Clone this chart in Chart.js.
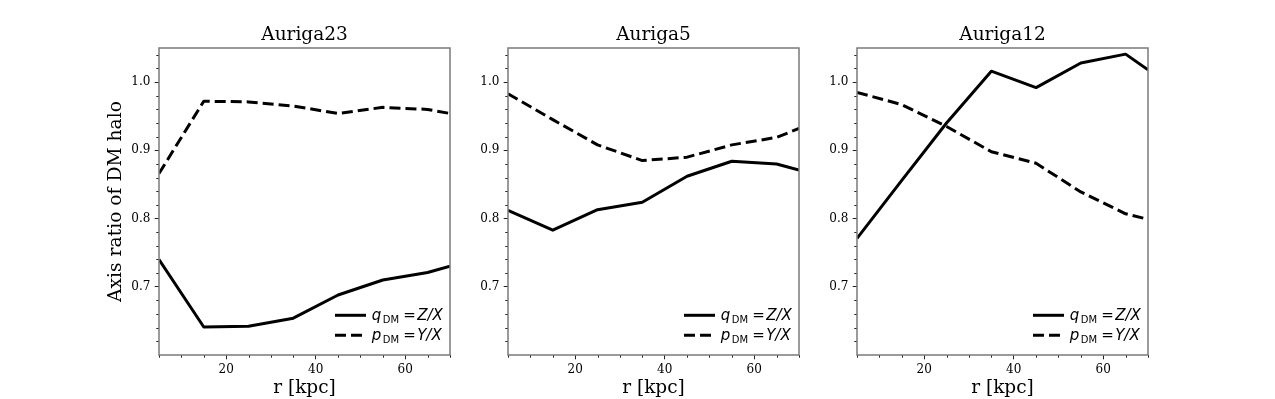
<!DOCTYPE html>
<html>
<head>
<meta charset="utf-8">
<title>Axis ratio of DM halo</title>
<script src="https://cdn.jsdelivr.net/npm/chart.js@4.4.1/dist/chart.umd.min.js"></script>
<style>
    html, body { margin: 0; padding: 0; background: #fff; }
    body { width: 1275px; height: 399px; position: relative; overflow: hidden; }
    canvas { position: absolute; top: 0; }
</style>
</head>
<body>
<canvas id="auriga23" width="366" height="399" style="left:89px"></canvas>
<canvas id="auriga5" width="366" height="399" style="left:438px"></canvas>
<canvas id="auriga12" width="366" height="399" style="left:787px"></canvas>
<script>
// --- Data ---
const radii = [5, 15, 25, 35, 45, 55, 65, 70];

const q23 = [0.740, 0.641, 0.642, 0.654, 0.688, 0.710, 0.721, 0.730];
const p23 = [0.866, 0.972, 0.971, 0.965, 0.954, 0.963, 0.960, 0.954];

const q5 = [0.812, 0.783, 0.813, 0.824, 0.862, 0.884, 0.880, 0.871];
const p5 = [0.983, 0.945, 0.908, 0.885, 0.890, 0.908, 0.919, 0.932];

const q12 = [0.771, 0.856, 0.940, 1.016, 0.992, 1.028, 1.041, 1.018];
const p12 = [0.985, 0.967, 0.935, 0.898, 0.881, 0.839, 0.807, 0.799];

const xTicks = [20, 40, 60];
const yTicks = [0.7, 0.8, 0.9, 1.0];

Chart.defaults.font.family = '"DejaVu Serif", serif';
Chart.defaults.color = '#000';

/**
 * Minor ticks, the four spines and the legend with subscripts.
 */
const axesDecor = {
    id: 'axesDecor',
    afterDraw(chart) {
        const { ctx, chartArea: a, scales: { x, y } } = chart;
        ctx.save();

        // minor ticks
        ctx.strokeStyle = '#222';
        ctx.lineWidth = 1;
        ctx.beginPath();
        for (let i = 31; i <= 52; i++) {
            if (i % 5 === 0) continue;
            const py = Math.round(y.getPixelForValue(i / 50)) + 0.5;
            ctx.moveTo(a.left - 2.7, py);
            ctx.lineTo(a.left, py);
        }
        for (let v = 5; v <= 70; v += 5) {
            if (xTicks.includes(v)) continue;
            const px = Math.round(x.getPixelForValue(v)) + 0.5;
            ctx.moveTo(px, a.bottom);
            ctx.lineTo(px, a.bottom + 2.7);
        }
        ctx.stroke();

        // spines
        ctx.strokeStyle = '#7a7a7a';
        ctx.lineWidth = 1.5;
        ctx.strokeRect(a.left, a.top, a.right - a.left, a.bottom - a.top);

        // legend
        const rows = [
            { dash: [], sym: 'q', rhs: 'Z/X', dy: -39.7 },
            { dash: [11, 5], sym: 'p', rhs: 'Y/X', dy: -19.7 }
        ];
        const x0 = a.right - 78.3;
        rows.forEach(r => {
            const ly = a.bottom + r.dy;
            ctx.strokeStyle = '#000';
            ctx.lineWidth = 3;
            ctx.lineCap = 'butt';
            ctx.setLineDash(r.dash);
            ctx.beginPath();
            ctx.moveTo(a.right - 115, ly);
            ctx.lineTo(a.right - 84, ly);
            ctx.stroke();
            ctx.setLineDash([]);

            const base = ly + 5;
            ctx.fillStyle = '#000';
            ctx.textBaseline = 'alphabetic';
            ctx.textAlign = 'left';
            ctx.font = 'italic 15px "DejaVu Sans"';
            ctx.fillText(r.sym, x0, base);
            ctx.font = '10px "DejaVu Sans"';
            ctx.fillText('DM', x0 + 11, base + 2.4);
            ctx.font = '15px "DejaVu Sans"';
            ctx.fillText('=', x0 + 31.5, base);
            ctx.font = 'italic 15px "DejaVu Sans"';
            ctx.fillText(r.rhs, x0 + 45.5, base);
        });
        ctx.restore();
    }
};

function makePanel(id, title, qValues, pValues, showYLabel) {
    const toPoints = vals => radii.map((r, i) => ({ x: r, y: vals[i] }));
    const tickGrid = {
        display: true,
        drawOnChartArea: false,
        drawTicks: true,
        tickLength: 4.3,
        tickColor: '#222',
        tickWidth: 1
    };

    return new Chart(document.getElementById(id), {
        type: 'line',
        data: {
            datasets: [
                {
                    label: 'q_DM = Z/X',
                    data: toPoints(qValues),
                    borderColor: '#000',
                    borderWidth: 3,
                    borderJoinStyle: 'round',
                    pointRadius: 0,
                    tension: 0,
                    fill: false,
                    clip: 0
                },
                {
                    label: 'p_DM = Y/X',
                    data: toPoints(pValues),
                    borderColor: '#000',
                    borderWidth: 3,
                    borderDash: [11, 5],
                    borderJoinStyle: 'round',
                    pointRadius: 0,
                    tension: 0,
                    fill: false,
                    clip: 0
                }
            ]
        },
        options: {
            responsive: false,
            animation: false,
            events: [],
            layout: { padding: { top: 0, right: 5, bottom: 0, left: 0 } },
            plugins: {
                legend: { display: false },
                tooltip: { enabled: false },
                title: {
                    display: true,
                    text: title,
                    fullSize: false,
                    color: '#000',
                    font: { size: 18.5, weight: 'normal' },
                    padding: { top: 24.4, bottom: 1.4 }
                }
            },
            scales: {
                x: {
                    type: 'linear',
                    min: 5,
                    max: 70,
                    afterBuildTicks: s => { s.ticks = xTicks.map(v => ({ value: v })); },
                    afterFit: s => { s.height = 44; },
                    ticks: { font: { size: 12 }, padding: 3.2, maxRotation: 0, autoSkip: false, callback: v => String(v) },
                    grid: tickGrid,
                    border: { display: false },
                    title: { display: true, text: 'r [kpc]', font: { size: 18.5 }, padding: { top: 0, bottom: 0 } }
                },
                y: {
                    type: 'linear',
                    min: 0.6,
                    max: 1.05,
                    afterBuildTicks: s => { s.ticks = yTicks.map(v => ({ value: v })); },
                    afterFit: s => { s.width = 70; },
                    ticks: { font: { size: 12 }, padding: 4.3, autoSkip: false, callback: v => v.toFixed(1) },
                    grid: tickGrid,
                    border: { display: false },
                    title: { display: showYLabel, text: 'Axis ratio of DM halo', font: { size: 18.7 }, padding: { top: 16, bottom: 0 } }
                }
            }
        },
        plugins: [axesDecor]
    });
}

makePanel('auriga23', 'Auriga23', q23, p23, true);
makePanel('auriga5', 'Auriga5', q5, p5, false);
makePanel('auriga12', 'Auriga12', q12, p12, false);
</script>
</body>
</html>
